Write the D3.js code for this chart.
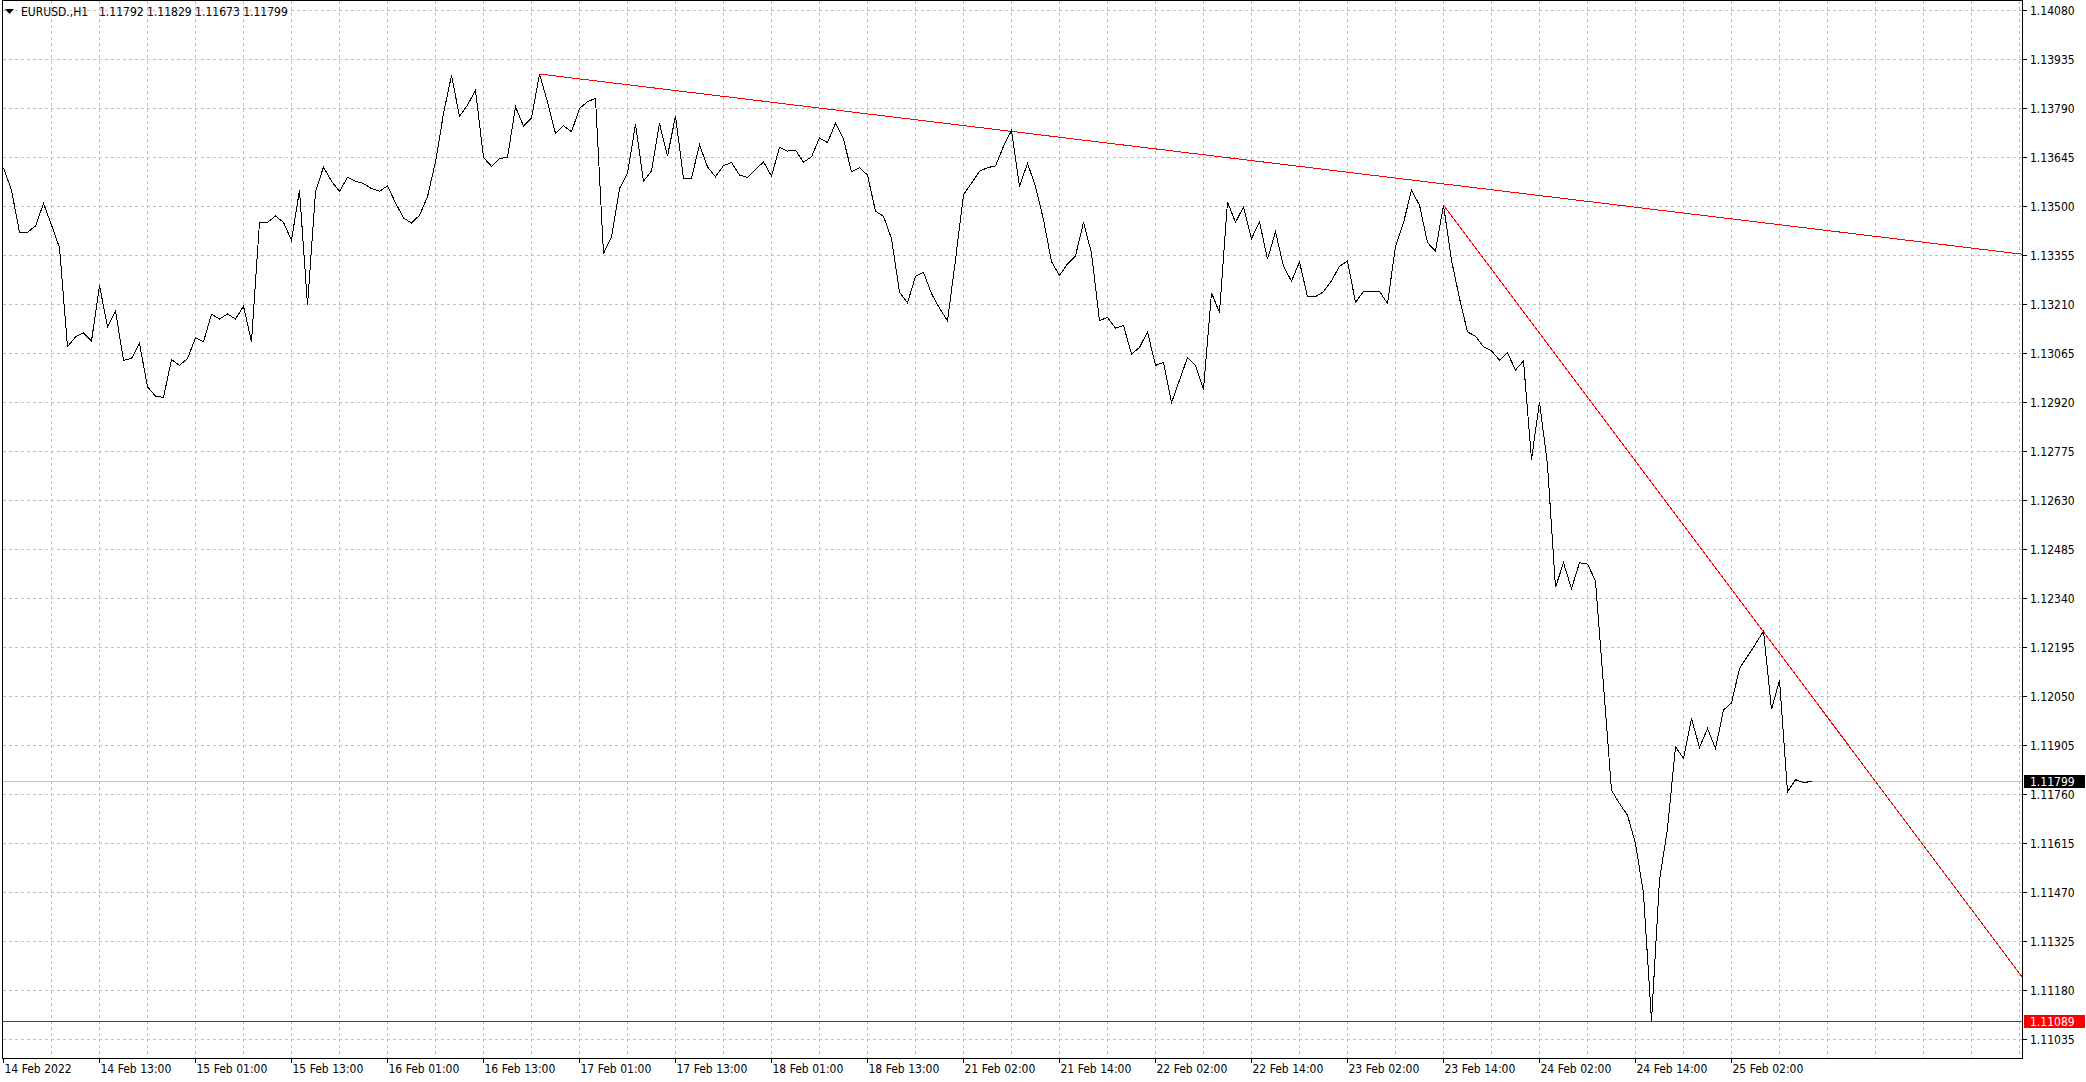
<!DOCTYPE html>
<html>
<head>
<meta charset="utf-8">
<script src="https://cdn.jsdelivr.net/npm/d3@7"></script>
<style>
  html, body { margin: 0; padding: 0; background: #fff; overflow: hidden; }
  text {
    font-family: "DejaVu Sans Condensed", "DejaVu Sans", sans-serif;
    font-stretch: condensed;
    font-size: 12px;
    fill: #000;
  }
</style>
</head>
<body>
<svg id="chart" width="2086" height="1082"></svg>
<script>
const symbolTitle = 'EURUSD.,H1';
const lastBarOHLC = ['1.11792', '1.11829', '1.11673', '1.11799'];

// H1 close prices, one per bar, starting 14 Feb 2022 01:00
const closes = [
  1.13615, 1.13548, 1.13424, 1.13424, 1.13442, 1.13509, 1.13445, 1.13378, 1.13085, 1.13114,
  1.13126, 1.13102, 1.13266, 1.13144, 1.13191, 1.13045, 1.13050, 1.13095, 1.12966, 1.12939,
  1.12935, 1.13047, 1.13030, 1.13050, 1.13111, 1.13100, 1.13181, 1.13167, 1.13182, 1.13167,
  1.13205, 1.13100, 1.13453, 1.13453, 1.13472, 1.13453, 1.13400, 1.13548, 1.13208, 1.13543,
  1.13617, 1.13575, 1.13545, 1.13586, 1.13575, 1.13568, 1.13553, 1.13545, 1.13561, 1.13511,
  1.13466, 1.13451, 1.13474, 1.13529, 1.13632, 1.13775, 1.13888, 1.13767, 1.13800, 1.13844,
  1.13645, 1.13619, 1.13642, 1.13645, 1.13795, 1.13738, 1.13762, 1.13892, 1.13810, 1.13716,
  1.13739, 1.13721, 1.13790, 1.13810, 1.13820, 1.13361, 1.13410, 1.13553, 1.13598, 1.13743,
  1.13575, 1.13605, 1.13746, 1.13649, 1.13768, 1.13583, 1.13583, 1.13683, 1.13617, 1.13588,
  1.13621, 1.13630, 1.13593, 1.13586, 1.13609, 1.13632, 1.13590, 1.13675, 1.13664, 1.13667,
  1.13631, 1.13647, 1.13703, 1.13689, 1.13746, 1.13699, 1.13603, 1.13615, 1.13593, 1.13486,
  1.13471, 1.13405, 1.13247, 1.13215, 1.13293, 1.13305, 1.13242, 1.13199, 1.13162, 1.13342,
  1.13535, 1.13569, 1.13604, 1.13615, 1.13620, 1.13678, 1.13725, 1.13559, 1.13628, 1.13559,
  1.13461, 1.13337, 1.13296, 1.13330, 1.13354, 1.13453, 1.13362, 1.13162, 1.13172, 1.13140,
  1.13148, 1.13063, 1.13083, 1.13129, 1.13030, 1.13038, 1.12919, 1.12986, 1.13053, 1.13030,
  1.12958, 1.13245, 1.13186, 1.13514, 1.13453, 1.13499, 1.13405, 1.13455, 1.13344, 1.13425,
  1.13323, 1.13279, 1.13336, 1.13233, 1.13233, 1.13248, 1.13280, 1.13323, 1.13339, 1.13216,
  1.13249, 1.13249, 1.13249, 1.13213, 1.13381, 1.13452, 1.13548, 1.13504, 1.13393, 1.13368,
  1.13504, 1.13341, 1.13228, 1.13129, 1.13116, 1.13085, 1.13073, 1.13045, 1.13067, 1.13016,
  1.13043, 1.12751, 1.12922, 1.12735, 1.12373, 1.12446, 1.12369, 1.12446, 1.12442, 1.12392,
  1.12084, 1.11773, 1.11733, 1.11699, 1.11615, 1.11467, 1.11090, 1.11507, 1.11659, 1.11901,
  1.11867, 1.11985, 1.11899, 1.11955, 1.11896, 1.12010, 1.12031, 1.12133, 1.12169, 1.12205,
  1.12244, 1.12012, 1.12098, 1.11768, 1.11804, 1.11795, 1.11799
];

const timeLabels = [
  '14 Feb 2022', '14 Feb 13:00', '15 Feb 01:00', '15 Feb 13:00', '16 Feb 01:00',
  '16 Feb 13:00', '17 Feb 01:00', '17 Feb 13:00', '18 Feb 01:00', '18 Feb 13:00',
  '21 Feb 02:00', '21 Feb 14:00', '22 Feb 02:00', '22 Feb 14:00', '23 Feb 02:00',
  '23 Feb 14:00', '24 Feb 02:00', '24 Feb 14:00', '25 Feb 02:00'
];
const labelEvery = 12; // bars between time labels
const gridEvery = 6;   // bars between vertical grid lines

const priceTicks = [
  '1.14080', '1.13935', '1.13790', '1.13645', '1.13500', '1.13355', '1.13210', '1.13065',
  '1.12920', '1.12775', '1.12630', '1.12485', '1.12340', '1.12195', '1.12050', '1.11905',
  '1.11760', '1.11615', '1.11470', '1.11325', '1.11180', '1.11035'
];

// trend lines as two anchor points each (bar index, price), drawn as rays to the right
const trendLines = [
  [{ bar: 67, price: 1.13892 }, { bar: 197.7, price: 1.13516 }],
  [{ bar: 180, price: 1.13504 }, { bar: 220, price: 1.12241 }]
];
const lowLevel = 1.11089;
const lastPrice = 1.11799;

const plot = { left: 2, right: 2022, top: 0, bottom: 1058 };
const barPx = 8;

const svg = d3.select('#chart');

const x = d3.scaleLinear()
  .domain([0, closes.length - 1])
  .range([3.5, 3.5 + barPx * (closes.length - 1)]);

const y = d3.scaleLinear()
  .domain([+priceTicks[priceTicks.length - 1], +priceTicks[0]])
  .range([1039.5, 10.5]);

const rightBar = x.invert(plot.right);

svg.append('defs').append('clipPath')
  .attr('id', 'plot-clip')
  .append('rect')
  .attr('x', plot.left)
  .attr('y', plot.top)
  .attr('width', plot.right - plot.left)
  .attr('height', plot.bottom - plot.top);

// grid
const grid = svg.append('g')
  .attr('class', 'grid')
  .attr('stroke', '#c0c0c0')
  .attr('stroke-dasharray', '3,3')
  .attr('shape-rendering', 'crispEdges');

grid.selectAll('line.h')
  .data(priceTicks)
  .join('line')
  .attr('class', 'h')
  .attr('x1', plot.left + 1)
  .attr('x2', plot.right)
  .attr('y1', (d) => Math.floor(y(+d)) + 0.5)
  .attr('y2', (d) => Math.floor(y(+d)) + 0.5);

grid.selectAll('line.v')
  .data(d3.range(gridEvery, Math.floor(rightBar) + 1, gridEvery))
  .join('line')
  .attr('class', 'v')
  .attr('x1', (d) => x(d))
  .attr('x2', (d) => x(d))
  .attr('y1', plot.top + 1)
  .attr('y2', plot.bottom);

const inner = svg.append('g').attr('clip-path', 'url(#plot-clip)');

// last price (bid) line and low level line
inner.append('line')
  .attr('x1', plot.left).attr('x2', plot.right)
  .attr('y1', Math.floor(y(lastPrice)) + 0.5)
  .attr('y2', Math.floor(y(lastPrice)) + 0.5)
  .attr('stroke', '#c0c0c0')
  .attr('shape-rendering', 'crispEdges');

inner.append('line')
  .attr('x1', plot.left).attr('x2', plot.right)
  .attr('y1', Math.floor(y(lowLevel)) + 0.5)
  .attr('y2', Math.floor(y(lowLevel)) + 0.5)
  .attr('stroke', '#ff0000')
  .attr('shape-rendering', 'crispEdges');

// trend lines
inner.selectAll('line.trend')
  .data(trendLines)
  .join('line')
  .attr('class', 'trend')
  .attr('x1', (d) => x(d[0].bar))
  .attr('y1', (d) => y(d[0].price))
  .attr('x2', x(rightBar))
  .attr('y2', (d) => {
    const slope = (d[1].price - d[0].price) / (d[1].bar - d[0].bar);
    return y(d[0].price + slope * (rightBar - d[0].bar));
  })
  .attr('stroke', '#ff0000')
  .attr('stroke-width', 1)
  .attr('shape-rendering', 'crispEdges');

// close price line
const valueline = d3.line()
  .x((d, i) => x(i))
  .y((d) => y(d));

inner.append('path')
  .datum(closes)
  .attr('d', valueline)
  .attr('fill', 'none')
  .attr('stroke', '#000')
  .attr('stroke-width', 1)
  .attr('shape-rendering', 'crispEdges');

// frame
svg.append('rect')
  .attr('x', plot.left + 0.5)
  .attr('y', plot.top + 0.5)
  .attr('width', plot.right - plot.left)
  .attr('height', plot.bottom - plot.top)
  .attr('fill', 'none')
  .attr('stroke', '#000')
  .attr('shape-rendering', 'crispEdges');

// price axis
const priceAxis = svg.append('g').attr('class', 'price-axis');

priceAxis.selectAll('line')
  .data(priceTicks)
  .join('line')
  .attr('x1', plot.right + 1)
  .attr('x2', plot.right + 5)
  .attr('y1', (d) => Math.floor(y(+d)) + 0.5)
  .attr('y2', (d) => Math.floor(y(+d)) + 0.5)
  .attr('stroke', '#000')
  .attr('shape-rendering', 'crispEdges');

priceAxis.selectAll('text')
  .data(priceTicks)
  .join('text')
  .attr('x', plot.right + 8)
  .attr('y', (d) => Math.floor(y(+d)) + 5)
  .text((d) => d);

// price tags
const tags = [
  { price: lastPrice, label: lastPrice.toFixed(5), fill: '#000' },
  { price: lowLevel, label: lowLevel.toFixed(5), fill: '#ff0000' }
];

const tag = svg.append('g').selectAll('g')
  .data(tags)
  .join('g');

tag.append('rect')
  .attr('x', plot.right + 2)
  .attr('y', (d) => Math.floor(y(d.price)) - 6)
  .attr('width', 61)
  .attr('height', 13)
  .attr('fill', (d) => d.fill);

tag.append('text')
  .attr('x', plot.right + 8)
  .attr('y', (d) => Math.floor(y(d.price)) + 5)
  .style('fill', '#fff')
  .text((d) => d.label);

// time axis
const timeAxis = svg.append('g').attr('class', 'time-axis');

timeAxis.selectAll('line')
  .data(timeLabels)
  .join('line')
  .attr('x1', (d, i) => x(i * labelEvery))
  .attr('x2', (d, i) => x(i * labelEvery))
  .attr('y1', plot.bottom + 1)
  .attr('y2', plot.bottom + 5)
  .attr('stroke', '#000')
  .attr('shape-rendering', 'crispEdges');

timeAxis.selectAll('text')
  .data(timeLabels)
  .join('text')
  .attr('x', (d, i) => x(i * labelEvery) + 1)
  .attr('y', plot.bottom + 15)
  .text((d) => d);

// header
const header = svg.append('g').attr('class', 'header');

header.append('path')
  .attr('d', d3.line()([[5, 9], [14, 9], [9.5, 14]]))
  .attr('fill', '#000');

header.append('text')
  .attr('x', 21)
  .attr('y', 16)
  .text(symbolTitle);

header.append('text')
  .attr('x', 99)
  .attr('y', 16)
  .text(lastBarOHLC.join(' '));
</script>
</body>
</html>
